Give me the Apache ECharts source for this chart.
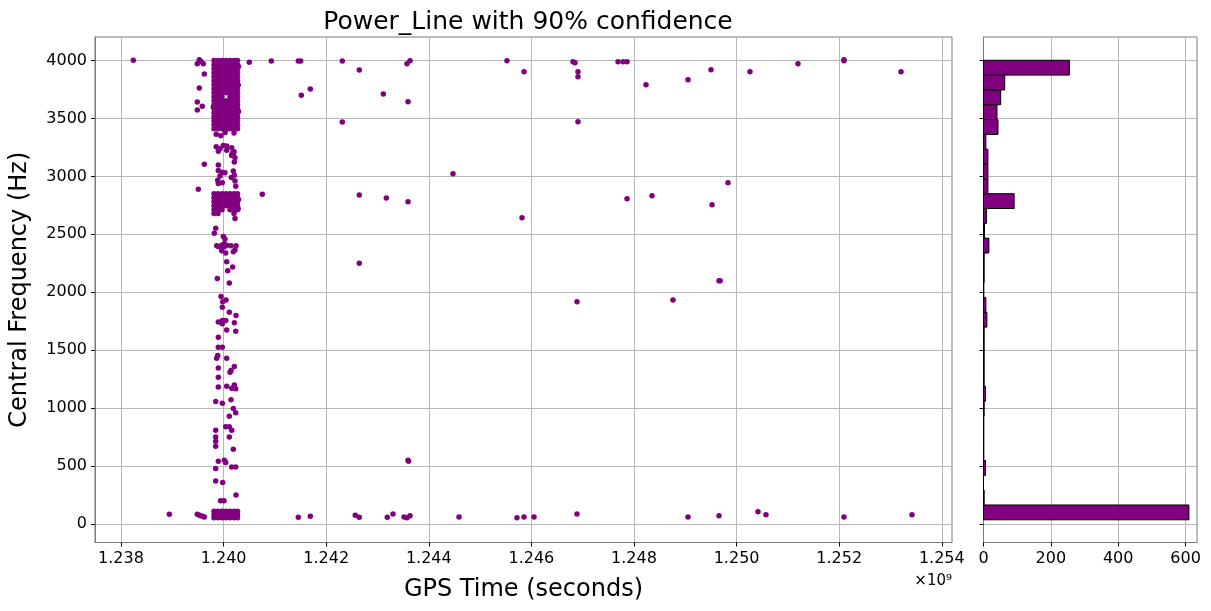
<!DOCTYPE html>
<html><head><meta charset="utf-8">
<script src="https://cdn.jsdelivr.net/npm/echarts@6/dist/echarts.min.js"></script>
<style>html,body{margin:0;padding:0;background:#fff}#c{width:1211px;height:611px}</style>
</head><body><div id="c"></div>
<script>
const titleText = 'Power_Line with 90% confidence';
const xAxisName = 'GPS Time (seconds)';
const yAxisName = 'Central Frequency (Hz)';
const xTicks = [1238e6, 1240e6, 1242e6, 1244e6, 1246e6, 1248e6, 1250e6, 1252e6, 1254e6];
const yTicks = [0, 500, 1000, 1500, 2000, 2500, 3000, 3500, 4000];
const histTicks = [0, 200, 400, 600];

// sparse events [GPS time (s), central frequency (Hz)]
const sparsePoints = [
  [1238240e3,4003],[1238942e3,84],[1239487e3,3972],[1239526e3,4007],[1239559e3,3992],[1239604e3,3972],
  [1239624e3,3884],[1239526e3,3763],[1239487e3,3642],[1239585e3,3607],[1239487e3,3573],[1239624e3,3106],
  [1239507e3,2890],[1240501e3,3987],[1240754e3,2847],[1240930e3,3996],[1241456e3,3996],[1241503e3,3996],
  [1241515e3,3702],[1241690e3,3754],[1242314e3,3996],[1242314e3,3469],[1242645e3,3918],[1242645e3,2839],
  [1242645e3,2251],[1243113e3,3711],[1243172e3,2813],[1243575e3,3973],[1243634e3,3998],[1243595e3,3644],
  [1243595e3,2781],[1243595e3,549],[1243605e3,540],[1244472e3,3023],[1245524e3,3998],[1245856e3,3903],
  [1245817e3,2643],[1246811e3,3990],[1246850e3,3981],[1246908e3,3903],[1246908e3,3860],[1246908e3,3472],
  [1246889e3,1917],[1247688e3,3990],[1247786e3,3990],[1247864e3,3990],[1248234e3,3791],[1247864e3,2807],
  [1248351e3,2833],[1248760e3,1934],[1249053e3,3834],[1249501e3,3921],[1249521e3,2755],[1249832e3,2945],
  [1249657e3,2099],[1249680e3,2099],[1250261e3,3903],[1251197e3,3973],[1252093e3,4007],[1252093e3,3998],
  [1253205e3,3903],
  [1241456e3,58],[1241690e3,66],[1242567e3,75],[1242645e3,58],[1243191e3,58],[1243302e3,86],[1243517e3,60],
  [1243575e3,52],[1243634e3,69],[1244589e3,60],[1245719e3,52],[1245856e3,60],[1246051e3,60],[1246889e3,86],
  [1249053e3,60],[1249657e3,69],[1250417e3,104],[1250573e3,78],[1252093e3,60],[1253419e3,78],
  [1239487e3,84],[1239526e3,75],[1239559e3,69],[1239604e3,63],[1239624e3,60],
  [1240222e3,2637],[1239846e3,2553],[1239819e3,2510],[1239994e3,2481],[1240027e3,2459],
  [1239865e3,2401],[1239897e3,2396],[1239930e3,2392],[1239963e3,2405],[1240014e3,2392],[1240014e3,2418],
  [1240060e3,2405],[1240144e3,2401],[1240242e3,2401],[1239963e3,2358],[1240189e3,2349],[1240222e3,2364],
  [1240041e3,2338],[1240060e3,2263],[1240177e3,2219],[1240080e3,2185],[1239877e3,2118],[1240111e3,2079],
  [1239949e3,1963],[1240047e3,1932],[1239982e3,1917],[1239975e3,1870],[1240111e3,1828],[1240242e3,1799],
  [1239897e3,1742],[1239975e3,1756],[1240041e3,1756],[1239975e3,1727],[1240209e3,1736],[1240060e3,1675],
  [1240236e3,1664],[1239897e3,1612],[1239897e3,1526],[1239975e3,1526],[1239885e3,1454],[1239865e3,1431],
  [1240060e3,1431],[1239897e3,1345],[1240209e3,1358],[1240125e3,1310],[1240144e3,1324],[1239897e3,1267],
  [1239897e3,1181],[1240060e3,1189],[1240158e3,1172],[1240209e3,1200],[1240236e3,1166],[1240144e3,1071],
  [1239846e3,1056],[1239975e3,1042],[1240189e3,996],[1240236e3,959],[1240111e3,930],[1240041e3,838],
  [1240111e3,838],[1240158e3,809],[1239846e3,809],[1240111e3,751],[1239846e3,751],[1239846e3,714],
  [1239846e3,671],[1240189e3,645],[1239897e3,541],[1240014e3,550],[1240041e3,529],[1240158e3,492],
  [1240236e3,492],[1239846e3,478],[1239846e3,369],[1239982e3,357],[1240242e3,250],[1239940e3,199],
  [1240008e3,199],
  [1239856e3,3256],[1239897e3,3218],[1239930e3,3238],[1239994e3,3267],[1240060e3,3262],[1240060e3,3227],
  [1240158e3,3247],[1240203e3,3213],[1240222e3,3161],[1240209e3,3124],[1240158e3,3181],[1239897e3,3098],
  [1240170e3,3200],[1240190e3,3185],
  [1239897e3,3051],[1239963e3,3037],[1240027e3,3031],[1239930e3,3003],[1239885e3,2968],[1239897e3,2939],
  [1239975e3,2945],[1240189e3,3046],[1240209e3,3011],[1240222e3,2960],[1240236e3,2916],[1240150e3,2990],
  [1239856e3,3365],[1239946e3,3351],[1240203e3,3374],[1240030e3,3380],
  [1240290e3,3950],[1240285e3,3790],[1240290e3,3560],[1239800e3,3600],[1240290e3,2800],[1240284e3,2720]
];

// dense blocks: [central frequency (Hz), [GPS times (s)]]
const denseRows = [
  [4000,[1239813e3,1239891e3,1239969e3,1240047e3,1240125e3,1240203e3,1240271e3]],
  [3965,[1239813e3,1239891e3,1239969e3,1240047e3,1240125e3,1240203e3,1240271e3]],
  [3930,[1239813e3,1239891e3,1239969e3,1240047e3,1240125e3,1240203e3,1240271e3]],
  [3895,[1239813e3,1239891e3,1239969e3,1240047e3,1240125e3,1240203e3,1240271e3]],
  [3860,[1239813e3,1239891e3,1239969e3,1240047e3,1240125e3,1240203e3,1240271e3]],
  [3826,[1239813e3,1239891e3,1239969e3,1240047e3,1240125e3,1240203e3,1240271e3]],
  [3791,[1239813e3,1239891e3,1239969e3,1240047e3,1240125e3,1240203e3,1240271e3]],
  [3757,[1239813e3,1239891e3,1239969e3,1240047e3,1240125e3,1240203e3,1240271e3]],
  [3722,[1239813e3,1239891e3,1239969e3,1240047e3,1240125e3,1240203e3,1240271e3]],
  [3688,[1239813e3,1239891e3,1239969e3,1240125e3,1240203e3,1240271e3]],
  [3653,[1239813e3,1239891e3,1239969e3,1240047e3,1240125e3,1240203e3,1240271e3]],
  [3619,[1239813e3,1239891e3,1239969e3,1240047e3,1240125e3,1240203e3,1240271e3]],
  [3584,[1239813e3,1239891e3,1239969e3,1240047e3,1240125e3,1240203e3,1240271e3]],
  [3550,[1239813e3,1239891e3,1239969e3,1240047e3,1240125e3,1240203e3,1240271e3]],
  [3515,[1239813e3,1239891e3,1239969e3,1240047e3,1240125e3,1240203e3,1240271e3]],
  [3481,[1239813e3,1239891e3,1239969e3,1240047e3,1240125e3,1240203e3,1240271e3]],
  [3446,[1239813e3,1239891e3,1239969e3,1240047e3,1240125e3,1240203e3,1240271e3]],
  [3412,[1239813e3,1239891e3,1239969e3,1240047e3,1240125e3,1240203e3,1240271e3]],
  [2850,[1239813e3,1239891e3,1239969e3,1240047e3,1240125e3,1240203e3,1240271e3]],
  [2815,[1239813e3,1239891e3,1239969e3,1240047e3,1240125e3,1240203e3,1240271e3]],
  [2781,[1239813e3,1239891e3,1239969e3,1240047e3,1240125e3,1240203e3,1240271e3]],
  [2746,[1239813e3,1239891e3,1239969e3,1240047e3,1240125e3,1240203e3,1240271e3]],
  [2712,[1239813e3,1239891e3,1239969e3,1240125e3,1240203e3,1240271e3]],
  [2680,[1239813e3,1239891e3,1240203e3]],
  [108,[1239813e3,1239891e3,1239969e3,1240047e3,1240125e3,1240203e3,1240271e3]],
  [78,[1239813e3,1239891e3,1239969e3,1240047e3,1240125e3,1240203e3,1240271e3]],
  [52,[1239813e3,1239891e3,1239969e3,1240047e3,1240125e3,1240203e3,1240271e3]]
];

// histogram of central frequency, bins from bottom to top
const histBinStart = 35;
const histBinWidth = 128;
const histCounts = [610,2,0,6,1,1,1,2,6,2,2,2,2,10,7,1,2,2,16,3,9,91,13,13,13,7,43,40,51,63,255];

const scatterData = sparsePoints.slice();
denseRows.forEach(r => r[1].forEach(t => scatterData.push([t, r[0]])));
const histData = histCounts.map((c, i) => [histBinStart + i * histBinWidth, histBinStart + (i + 1) * histBinWidth, c]);

const FONT = 'DejaVu Sans';
const SPINE = '#7a7a7a';
const GRIDC = '#b8b8b8';

const chart = echarts.init(document.getElementById('c'), null, {renderer: 'canvas'});
chart.setOption({
  animation: false,
  backgroundColor: '#fff',
  textStyle: {fontFamily: FONT},
  title: {text: titleText, left: 523, textAlign: 'center', top: 5,
    textStyle: {fontFamily: FONT, fontSize: 25, fontWeight: 'normal', color: '#000'}},
  grid: [
    {left: 94.5, right: 259, top: 37, bottom: 68.5, show: true, borderColor: SPINE, borderWidth: 1},
    {left: 983.5, right: 14, top: 37, bottom: 68.5, show: true, borderColor: SPINE, borderWidth: 1}
  ],
  xAxis: [
    {gridIndex: 0, type: 'value', min: 1237493e3, max: 1254199e3,
      name: xAxisName, nameLocation: 'middle', nameGap: 35,
      nameTextStyle: {fontFamily: FONT, fontSize: 24, color: '#000'},
      axisLine: {show: true, onZero: false, lineStyle: {color: SPINE}},
      axisTick: {show: true, customValues: xTicks, length: 4, lineStyle: {color: '#000'}},
      axisLabel: {customValues: xTicks, margin: 8, fontFamily: FONT, fontSize: 16, color: '#000',
        formatter: v => (v / 1e9).toFixed(3)},
      splitLine: {show: true, lineStyle: {color: GRIDC, width: 1}}},
    {gridIndex: 1, type: 'value', min: 0, max: 634, interval: 200,
      axisLine: {show: true, onZero: false, lineStyle: {color: SPINE}},
      axisTick: {show: true, customValues: histTicks, length: 4, lineStyle: {color: '#000'}},
      axisLabel: {customValues: histTicks, margin: 8, fontFamily: FONT, fontSize: 16, color: '#000'},
      splitLine: {show: true, lineStyle: {color: GRIDC, width: 1}}}
  ],
  yAxis: [
    {gridIndex: 0, type: 'value', min: -161, max: 4204,
      name: yAxisName, nameLocation: 'middle', nameGap: 63,
      nameTextStyle: {fontFamily: FONT, fontSize: 24, color: '#000'},
      axisLine: {show: true, onZero: false, lineStyle: {color: SPINE}},
      axisTick: {show: true, customValues: yTicks, length: 4, lineStyle: {color: '#000'}},
      axisLabel: {customValues: yTicks, margin: 8, fontFamily: FONT, fontSize: 16, color: '#000',
        formatter: v => String(v)},
      splitLine: {show: true, lineStyle: {color: GRIDC, width: 1}}},
    {gridIndex: 1, type: 'value', min: -161, max: 4204,
      axisLine: {show: true, onZero: false, lineStyle: {color: SPINE}},
      axisTick: {show: true, customValues: yTicks, length: 4, lineStyle: {color: '#000'}},
      axisLabel: {show: false, customValues: yTicks},
      splitLine: {show: true, lineStyle: {color: GRIDC, width: 1}}}
  ],
  graphic: [
    {type: 'text', right: 259, top: 574, style: {text: '×10⁹', font: '15px "DejaVu Sans"', fill: '#000'}}
  ],
  series: [
    {type: 'scatter', xAxisIndex: 0, yAxisIndex: 0, data: scatterData, symbolSize: 5.5,
      itemStyle: {color: '#800080', opacity: 1}, silent: true, large: false},
    {type: 'custom', xAxisIndex: 1, yAxisIndex: 1, data: histData, encode: {x: 2, y: [0, 1]}, silent: true,
      renderItem: function (params, api) {
        const lo = api.value(0), hi = api.value(1), c = api.value(2);
        const p0 = api.coord([0, hi]);
        const p1 = api.coord([c, lo]);
        return {type: 'rect', shape: {x: p0[0], y: p0[1], width: p1[0] - p0[0], height: p1[1] - p0[1]},
          style: {fill: '#800080', stroke: '#000', lineWidth: 1}};
      }}
  ]
});
</script></body></html>
